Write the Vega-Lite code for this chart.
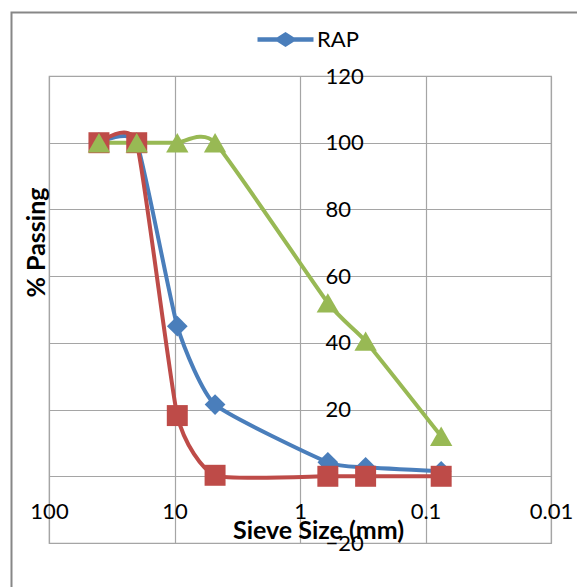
{
  "$schema": "https://vega.github.io/schema/vega-lite/v6.json",
  "width": 502,
  "height": 467,
  "autosize": {"type": "none"},
  "padding": {"left": 49, "top": 76, "right": 26, "bottom": 44},
  "background": "white",
  "config": {
    "view": {"stroke": "#a5a5a5", "strokeWidth": 1.2},
    "font": "Lato",
    "axis": {"labelFont": "Lato", "labelColor": "#000000", "titleFont": "Lato", "titleColor": "#000000"}
  },
  "data": {
    "values": [
      {"series": "RAP", "sieve": 40, "passing": 100},
      {"series": "RAP", "sieve": 20, "passing": 100},
      {"series": "RAP", "sieve": 9.5, "passing": 45},
      {"series": "RAP", "sieve": 4.75, "passing": 21.5},
      {"series": "RAP", "sieve": 0.6, "passing": 4.2},
      {"series": "RAP", "sieve": 0.3, "passing": 2.7},
      {"series": "RAP", "sieve": 0.075, "passing": 1.5},
      {"series": "Coarse Aggregate", "sieve": 40, "passing": 100},
      {"series": "Coarse Aggregate", "sieve": 20, "passing": 100},
      {"series": "Coarse Aggregate", "sieve": 9.5, "passing": 18.2},
      {"series": "Coarse Aggregate", "sieve": 4.75, "passing": 0.3},
      {"series": "Coarse Aggregate", "sieve": 0.6, "passing": 0},
      {"series": "Coarse Aggregate", "sieve": 0.3, "passing": 0},
      {"series": "Coarse Aggregate", "sieve": 0.075, "passing": 0},
      {"series": "Fine Aggregate", "sieve": 40, "passing": 100},
      {"series": "Fine Aggregate", "sieve": 20, "passing": 100},
      {"series": "Fine Aggregate", "sieve": 9.5, "passing": 100},
      {"series": "Fine Aggregate", "sieve": 4.75, "passing": 100},
      {"series": "Fine Aggregate", "sieve": 0.6, "passing": 52},
      {"series": "Fine Aggregate", "sieve": 0.3, "passing": 40.5},
      {"series": "Fine Aggregate", "sieve": 0.075, "passing": 12}
    ]
  },
  "layer": [
    {
      "data": {"values": [{}]},
      "mark": {"type": "rect", "fill": "transparent", "stroke": "#878787", "strokeWidth": 2},
      "encoding": {
        "x": {"datum": 199, "type": "quantitative", "scale": {"type": "log", "domain": [0.01, 100], "reverse": true}, "axis": null},
        "x2": {"datum": 0.001},
        "y": {"datum": 139, "type": "quantitative", "scale": {"domain": [-20, 120], "nice": false, "zero": false}, "axis": null},
        "y2": {"datum": -45}
      }
    },
    {
      "mark": {"type": "line", "interpolate": "cardinal", "tension": 0.5, "strokeWidth": 4},
      "encoding": {
        "x": {
          "field": "sieve", "type": "quantitative",
          "scale": {"type": "log", "domain": [0.01, 100], "reverse": true},
          "axis": {"orient": "bottom", "grid": true, "gridColor": "#a5a5a5", "gridWidth": 1.2, "labels": false, "ticks": false, "tickSize": 0, "domain": false, "title": null, "values": [100, 10, 1, 0.1, 0.01]}
        },
        "y": {
          "field": "passing", "type": "quantitative",
          "scale": {"domain": [-20, 120], "nice": false, "zero": false},
          "axis": {"orient": "left", "grid": true, "gridColor": "#a5a5a5", "gridWidth": 1.2, "labels": false, "ticks": false, "tickSize": 0, "domain": false, "values": [-20, 0, 20, 40, 60, 80, 100, 120],
            "title": "% Passing", "titleFontWeight": "bold", "titleFontSize": 25, "titleX": -13, "titleY": 166, "titleAngle": -90, "titleAlign": "center", "titleBaseline": "middle"}
        },
        "color": {
          "field": "series", "type": "nominal",
          "scale": {"domain": ["RAP", "Coarse Aggregate", "Fine Aggregate"], "range": ["#4a7ebb", "#be4b48", "#98b954"]},
          "legend": {
            "values": ["RAP"], "orient": "none", "legendX": 206, "legendY": -67, "title": null,
            "symbolType": "M-1,0L1,0M0,-0.17L0.27,0L0,0.17L-0.27,0Z", "symbolSize": 3136, "symbolStrokeWidth": 4.5,
            "symbolFillColor": "#4a7ebb", "labelFontSize": 22, "labelFont": "Lato", "labelColor": "#000000", "labelOffset": 1
          }
        }
      }
    },
    {
      "transform": [{"filter": "datum.series === 'RAP'"}],
      "mark": {"type": "point", "filled": true, "opacity": 1, "shape": "diamond", "size": 430, "color": "#4a7ebb"},
      "encoding": {
        "x": {
          "field": "sieve", "type": "quantitative",
          "scale": {"type": "log", "domain": [0.01, 100], "reverse": true},
          "axis": {"orient": "bottom", "offset": -67, "grid": false, "domain": false, "ticks": false, "tickSize": 0, "values": [100, 10, 1, 0.1, 0.01], "format": "~g",
            "labelPadding": 35, "labelBaseline": "middle", "labelFontSize": 22, "labelFlush": false, "labelOverlap": false,
            "title": "Sieve Size (mm)", "titleFontWeight": "bold", "titleFontSize": 25, "titleX": 269, "titleY": 54, "titleAlign": "center", "titleBaseline": "middle"}
        },
        "y": {
          "field": "passing", "type": "quantitative",
          "scale": {"domain": [-20, 120], "nice": false, "zero": false},
          "axis": {"orient": "right", "offset": -252, "grid": false, "domain": false, "ticks": false, "tickSize": 0, "values": [-20, 0, 20, 40, 60, 80, 100, 120],
            "labelAlign": "left", "labelPadding": 26, "labelBaseline": "middle", "labelFontSize": 22, "labelFlush": false, "labelOverlap": false, "title": null}
        }
      }
    },
    {
      "transform": [{"filter": "datum.series === 'Coarse Aggregate'"}],
      "mark": {"type": "point", "filled": true, "opacity": 1, "shape": "square", "size": 440, "color": "#be4b48"},
      "encoding": {
        "x": {"field": "sieve", "type": "quantitative", "scale": {"type": "log", "domain": [0.01, 100], "reverse": true}, "axis": null},
        "y": {"field": "passing", "type": "quantitative", "scale": {"domain": [-20, 120], "nice": false, "zero": false}, "axis": null}
      }
    },
    {
      "transform": [{"filter": "datum.series === 'Fine Aggregate'"}],
      "mark": {"type": "point", "filled": true, "opacity": 1, "shape": "triangle-up", "size": 500, "color": "#98b954"},
      "encoding": {
        "x": {"field": "sieve", "type": "quantitative", "scale": {"type": "log", "domain": [0.01, 100], "reverse": true}, "axis": null},
        "y": {"field": "passing", "type": "quantitative", "scale": {"domain": [-20, 120], "nice": false, "zero": false}, "axis": null}
      }
    }
  ],
  "resolve": {"axis": {"x": "independent", "y": "independent"}}
}
